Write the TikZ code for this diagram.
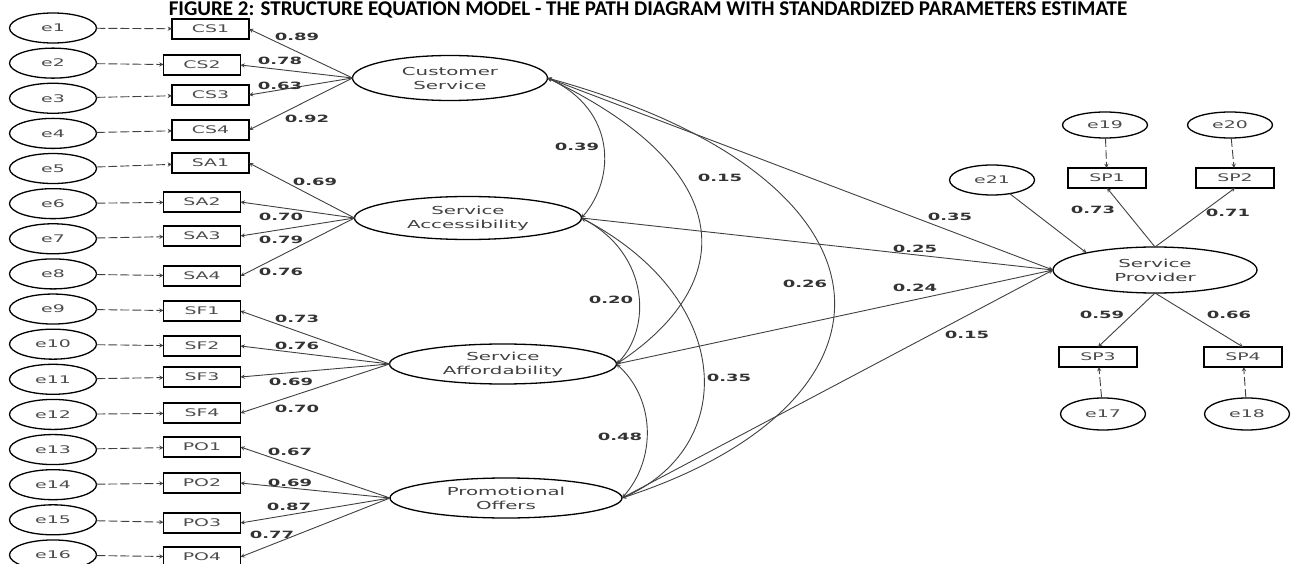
\documentclass[tikz,border=0pt]{standalone}
\usepackage{fontspec}
\setmainfont{DejaVu Sans}
\newfontfamily\semfont[FakeStretch=1.8]{DejaVu Sans}
\newfontfamily\titlefont{Carlito}
\usetikzlibrary{shapes.geometric}

\tikzset{
  err/.style={ellipse, draw, line width=1.3pt, minimum width=87pt, minimum height=30pt,
    inner sep=0pt, outer sep=0pt, text=black!70, font=\semfont\fontsize{10.5}{12}\selectfont},
  ind/.style={rectangle, draw, line width=1.3pt, minimum width=77pt, minimum height=20pt,
    inner sep=0pt, outer sep=0pt, text=black!70, font=\semfont\fontsize{10.5}{12}\selectfont},
  lat/.style={ellipse, draw, line width=1.3pt, inner sep=0pt, outer sep=0pt, align=center,
    text=black!75, font=\semfont\fontsize{11}{14}\selectfont},
  coef/.style={inner sep=0pt, text=black!80, font=\semfont\bfseries\fontsize{10}{12}\selectfont},
  load/.style={->, black!75, line width=0.9pt},
  errload/.style={->, black!75, line width=0.9pt, dash pattern=on 9pt off 3pt},
  cov/.style={<->, black!75, line width=0.9pt}
}

\begin{document}
\begin{tikzpicture}[x=1pt, y=-1pt, >=stealth]
    \useasboundingbox (0,0) rectangle (1291,564);
    \node[anchor=base, font=\titlefont\bfseries\fontsize{21}{24}\selectfont] (title) at (648,15.5)
      {FIGURE 2: STRUCTURE EQUATION MODEL - THE PATH DIAGRAM WITH STANDARDIZED PARAMETERS ESTIMATE};

    \foreach \i in {1,...,16}
      \node[err] (e\i) at (53,{28+35.13*(\i-1)}) {e\i};
    \foreach \name/\x/\y in {CS1/210.5/29, CS2/202/65, CS3/210.5/95, CS4/210.5/130,
        SA1/210.5/163, SA2/202/202, SA3/202/236, SA4/202/276,
        SF1/202/311, SF2/202/346, SF3/202/377, SF4/202/413,
        PO1/202/447, PO2/202/483, PO3/202/523, PO4/202/557}
      \node[ind] (\name) at (\x,\y) {\name};
    \foreach \name [count=\i] in {CS1,CS2,CS3,CS4,SA1,SA2,SA3,SA4,SF1,SF2,SF3,SF4,PO1,PO2,PO3,PO4}
      \draw[errload] (e\i) -- (\name);

    \node[lat, minimum width=195pt, minimum height=45pt] (cs) at (450,78) {Customer\\Service};
    \node[lat, minimum width=227pt, minimum height=43pt] (sa) at (468,218) {Service\\Accessibility};
    \node[lat, minimum width=227pt, minimum height=40pt] (sf) at (503,364) {Service\\Affordability};
    \node[lat, minimum width=232pt, minimum height=40pt] (po) at (506,498) {Promotional\\Offers};
    \node[lat, minimum width=204pt, minimum height=46pt] (sp) at (1155,270) {Service\\Provider};

    \foreach \name in {CS1,CS2,CS3,CS4}
      \draw[load] (cs.west) -- (\name.east);
    \foreach \name in {SA1,SA2,SA3,SA4}
      \draw[load] (sa.west) -- (\name.east);
    \foreach \name in {SF1,SF2,SF3,SF4}
      \draw[load] (sf.west) -- (\name.east);
    \foreach \name in {PO1,PO2,PO3,PO4}
      \draw[load] (po.west) -- (\name.east);

    \draw[cov] (cs.east) .. controls (616,110) and (616,178) .. (sa.east);
    \draw[cov] (cs.east) .. controls (739,170) and (739,283) .. (sf.east);
    \draw[cov] (cs.east) .. controls (916,180) and (916,402) .. (po.east);
    \draw[cov] (sa.east) .. controls (651,255) and (651,330) .. (sf.east);
    \draw[cov] (sa.east) .. controls (737,300) and (737,448) .. (po.east);
    \draw[cov] (sf.east) .. controls (656,400) and (656,460) .. (po.east);

    \foreach \lv in {cs,sa,sf,po}
      \draw[load] (\lv.east) -- (sp.west);

    \node[err, minimum width=85pt] (e21) at (992,180) {e21};
    \node[err, minimum width=85pt, minimum height=26pt] (e19) at (1105,125) {e19};
    \node[err, minimum width=85pt, minimum height=26pt] (e20) at (1230,125) {e20};
    \node[err, minimum width=85pt, minimum height=32pt] (e17) at (1103,414) {e17};
    \node[err, minimum width=85pt, minimum height=32pt] (e18) at (1247,414) {e18};
    \node[ind, minimum width=78pt] (SP1) at (1107,178) {SP1};
    \node[ind, minimum width=78pt] (SP2) at (1235,178) {SP2};
    \node[ind, minimum width=78pt] (SP3) at (1098,357) {SP3};
    \node[ind, minimum width=78pt] (SP4) at (1243,357) {SP4};

    \draw[load] (e21) -- (sp.166);
    \draw[load] (sp.north) -- (SP1.south);
    \draw[load] (sp.north) -- (SP2.south);
    \draw[load] (sp.south) -- (SP3.north);
    \draw[load] (sp.south) -- (SP4.north);
    \draw[errload] (e19) -- (SP1);
    \draw[errload] (e20) -- (SP2);
    \draw[errload] (e17) -- (SP3);
    \draw[errload] (e18) -- (SP4);

    \foreach \x/\y/\v [count=\k] in {297/37/0.89, 280/61/0.78, 280/86/0.63, 307/119/0.92,
        315/182/0.69, 281/217/0.70, 281/240/0.79, 281/272/0.76,
        297/319/0.73, 297/346/0.76, 291/382/0.69, 297/409/0.70,
        290/452/0.67, 290/483/0.69, 289/507/0.87, 272/535/0.77,
        577/147/0.39, 720/178/0.15, 805/284/0.26, 611/300/0.20, 729/378/0.35, 620/437/0.48,
        950/217/0.35, 915/249/0.25, 915/288/0.24, 967/335/0.15,
        1093/210/0.73, 1228/213/0.71, 1102/315/0.59, 1229/315/0.66}
      \node[coef] (coef\k) at (\x,\y) {\v};
\end{tikzpicture}
\end{document}
